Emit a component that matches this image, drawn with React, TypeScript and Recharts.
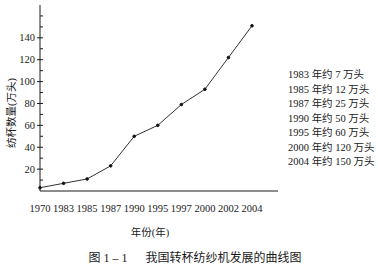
import React from "react";
import { LineChart, Line, XAxis, YAxis } from "recharts";

const years = ["1970", "1983", "1985", "1987", "1990", "1995", "1997", "2000", "2002", "2004"];
const spindles = [3, 7, 11, 23, 50, 60, 79, 93, 122, 151];
const yTicks = [10, 20, 30, 40, 50, 60, 70, 80, 90, 100, 110, 120, 130, 140, 150, 160];
const notes = [
  "1983 年约 7 万头",
  "1985 年约 12 万头",
  "1987 年约 25 万头",
  "1990 年约 50 万头",
  "1995 年约 60 万头",
  "2000 年约 120 万头",
  "2004 年约 150 万头",
];

const data = years.map((y, i) => ({ year: y, value: spindles[i] }));

const FONT = "'Liberation Serif', 'Noto Sans CJK SC', serif";
const INK = "#1a1a1a";

function YTick(props: any) {
  const { x, y, payload } = props;
  const v = payload.value;
  const major = v % 20 === 0 && v <= 140;
  return (
    <g>
      <line x1={major ? x - 3 : x} x2={x + 3} y1={y} y2={y} stroke={INK} strokeWidth={1} />
      {major && (
        <text x={x - 5} y={y} dy={3.5} textAnchor="end" fontSize={10.5} fontFamily={FONT} fill={INK}>
          {v}
        </text>
      )}
    </g>
  );
}

export default function App() {
  return (
    <div style={{ position: "absolute", left: 0, top: 0, width: 378, height: 271, background: "#fff", fontFamily: FONT, color: INK }}>
      <LineChart width={378} height={271} data={data} margin={{ top: 5, right: 100, left: 0, bottom: 60 }}>
        <XAxis
          dataKey="year"
          scale="point"
          padding={{ left: 0, right: 26 }}
          tickLine={false}
          axisLine={{ stroke: INK, strokeWidth: 1 }}
          height={20}
          tickMargin={8}
          interval={0}
          tick={{ fontSize: 10.5, fontFamily: FONT, fill: INK }}
        />
        <YAxis
          width={40}
          domain={[0, 170]}
          ticks={yTicks}
          interval={0}
          tickLine={false}
          tickSize={0}
          tickMargin={0}
          axisLine={{ stroke: INK, strokeWidth: 1 }}
          tick={<YTick />}
        />
        <Line
          type="linear"
          dataKey="value"
          stroke="#333"
          strokeWidth={1}
          dot={{ r: 1.3, fill: "#111", stroke: "#111" }}
          isAnimationActive={false}
        />
      </LineChart>

      <div
        style={{
          position: "absolute",
          left: 10,
          top: 113,
          transform: "translate(-50%, -50%) rotate(-90deg)",
          whiteSpace: "nowrap",
          fontSize: 10.5,
        }}
      >
        纺杯数量(万头)
      </div>

      <div style={{ position: "absolute", left: 288, top: 68, fontSize: 10.5, lineHeight: "14.5px", whiteSpace: "nowrap" }}>
        {notes.map((n) => (
          <div key={n}>{n}</div>
        ))}
      </div>

      <div style={{ position: "absolute", left: 150, top: 231, transform: "translate(-50%, -50%)", fontSize: 10.5, whiteSpace: "nowrap" }}>
        年份(年)
      </div>

      <div style={{ position: "absolute", left: 195, top: 257, transform: "translate(-50%, -50%)", fontSize: 12, whiteSpace: "pre" }}>
        {"图 1 – 1　  我国转杯纺纱机发展的曲线图"}
      </div>
    </div>
  );
}
